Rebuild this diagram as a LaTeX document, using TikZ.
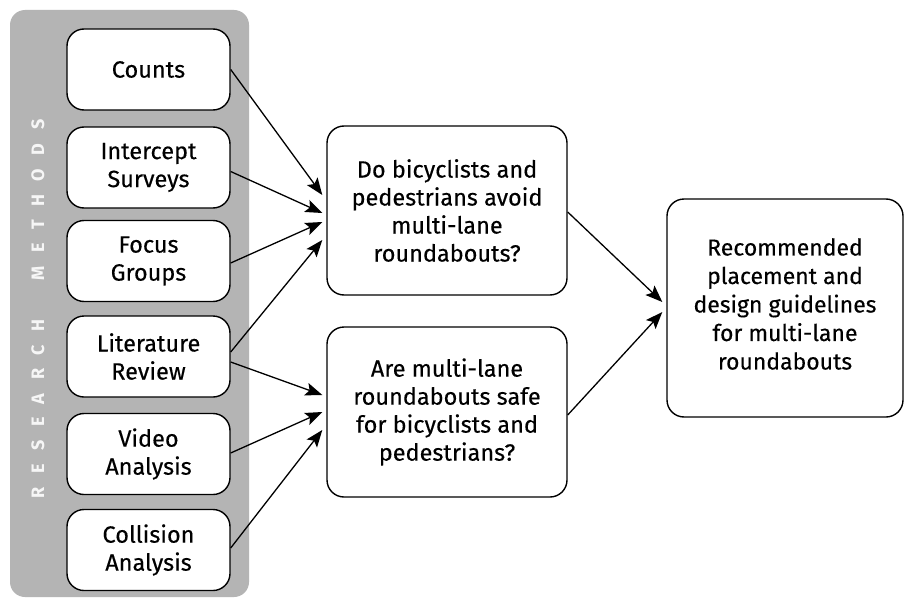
\documentclass[tikz,border=0pt]{standalone}
\usepackage{fontspec}
\setmainfont{Fira Sans}[FakeBold=0.3]
\newfontfamily\labelfont{Fira Sans}
\usetikzlibrary{arrows.meta,calc}
\definecolor{panelgray}{HTML}{B4B4B4}
\definecolor{lettergray}{HTML}{F6F6F6}
\newcommand{\lsp}{\hspace{13.5pt}}
\newcommand{\wsp}{\hspace{39pt}}
\begin{document}
\begin{tikzpicture}[x=1pt,y=-1pt,
  box/.style={draw=black,line width=1.4pt,rounded corners=17pt,fill=white,
    align=center,inner sep=0pt,font=\fontsize{23.5}{28}\selectfont},
  smallbox/.style={box,minimum width=163pt,minimum height=81pt},
  arr/.style={line width=1.3pt,-{Stealth[length=17pt,width=13pt,inset=3.5pt]}}]
\useasboundingbox (0,0) rectangle (904,599);
\fill[white] (0,0) rectangle (904,599);
\fill[panelgray,rounded corners=15pt] (10,10) rectangle (249,597);
\node[rotate=90,text=lettergray,font=\labelfont\bfseries\fontsize{18}{20}\selectfont] (label) at (38,309)
  {R\lsp E\lsp S\lsp E\lsp A\lsp R\lsp C\lsp H\wsp M\lsp E\lsp T\lsp H\lsp O\lsp D\lsp S};
\node[smallbox] (counts) at (148.5,69.5) {Counts};
\node[smallbox] (intercept) at (148.5,167.5) {Intercept\\Surveys};
\node[smallbox] (focus) at (148.5,261) {Focus\\Groups};
\node[smallbox] (lit) at (148.5,356.5) {Literature\\Review};
\node[smallbox] (video) at (148.5,454) {Video\\Analysis};
\node[smallbox] (collision) at (148.5,550) {Collision\\Analysis};
\node[box,minimum width=240pt,minimum height=169pt] (q1) at (447,210.5)
  {Do bicyclists and\\pedestrians avoid\\multi-lane\\roundabouts?};
\node[box,minimum width=240pt,minimum height=170pt] (q2) at (447,412)
  {Are multi-lane\\roundabouts safe\\for bicyclists and\\pedestrians?};
\node[box,minimum width=236pt,minimum height=218pt] (rec) at (785,308) {};
\node[align=center,inner sep=0pt,font=\fontsize{23}{28.5}\selectfont] (rectext) at (785,304)
  {Recommended\\placement and\\design guidelines\\for multi-lane\\roundabouts};
\draw[arr] (counts.east) -- ([xshift=-4pt,yshift=15.5pt]q1.west);
\draw[arr] ([yshift=-4pt]intercept.east) -- ([xshift=-4pt,yshift=-2.5pt]q1.west);
\draw[arr] ([yshift=-2pt]focus.east) -- ([xshift=-4pt,yshift=-11.5pt]q1.west);
\draw[arr] ([yshift=4.5pt]lit.east) -- ([xshift=-4pt,yshift=-29.5pt]q1.west);
\draw[arr] ([yshift=-5.5pt]lit.east) -- ([xshift=-4pt,yshift=17pt]q2.west);
\draw[arr] ([yshift=1pt]video.east) -- ([xshift=-4pt]q2.west);
\draw[arr] ([yshift=2pt]collision.east) -- ([xshift=-4pt,yshift=-18pt]q2.west);
\draw[arr] ([yshift=-1.5pt]q1.east) -- ([xshift=-4pt,yshift=6pt]rec.west);
\draw[arr] ([yshift=-3pt]q2.east) -- ([xshift=-4pt,yshift=-4pt]rec.west);
\end{tikzpicture}
\end{document}
